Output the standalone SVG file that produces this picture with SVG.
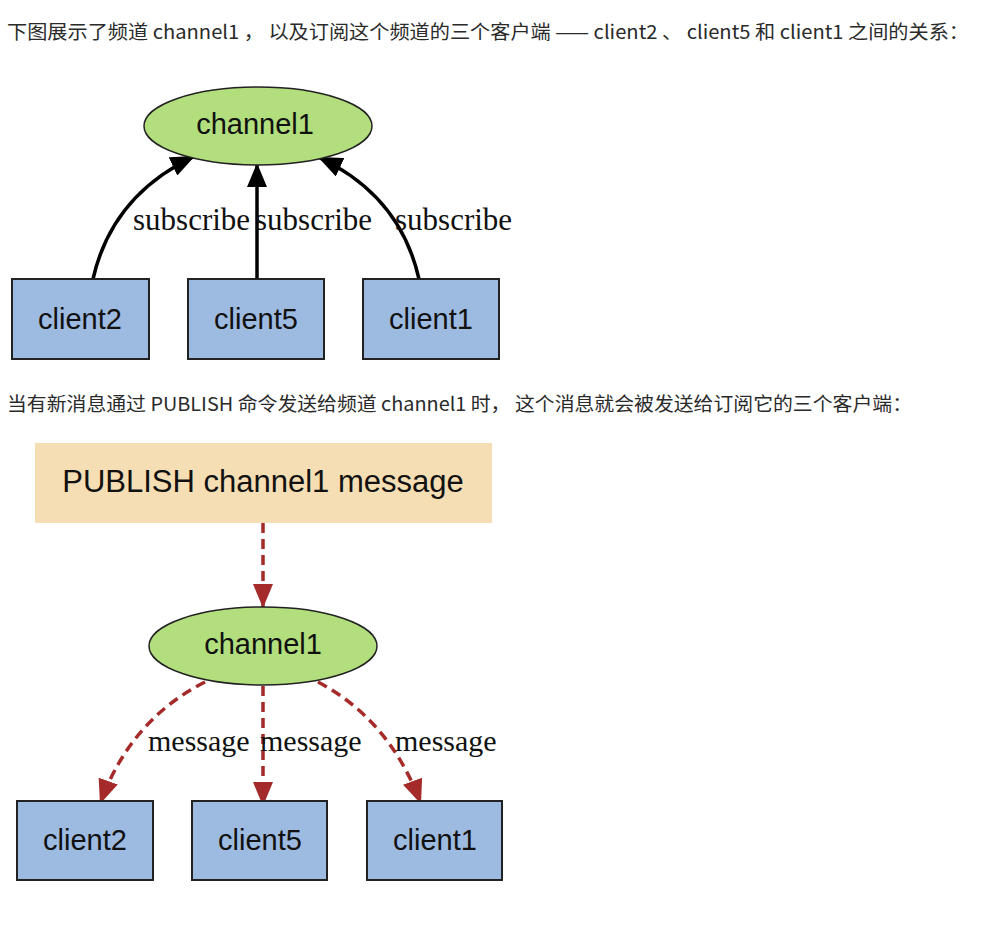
<svg xmlns="http://www.w3.org/2000/svg" width="1006" height="932" viewBox="0 0 1006 932">
<style>
.cap{font-family:"Noto Sans CJK SC","Noto Sans",sans-serif;font-size:19px;fill:#2a2a2a}
.nodeTxt{font-family:"Liberation Sans",Arial,sans-serif;font-size:29px;fill:#111;text-anchor:middle}
.pubTxt{font-size:31px}
.lbl{font-family:"Liberation Serif","Times New Roman",serif;font-size:31px;fill:#111}
.lblm{font-size:30px}
.ell{fill:#b3de7d;stroke:#222;stroke-width:1.5}
.box{fill:#9dbbe0;stroke:#222;stroke-width:2}
.sub{fill:none;stroke:#000;stroke-width:3.5;marker-end:url(#ab)}
.msg{fill:none;stroke:#a52a2a;stroke-width:3.5;stroke-dasharray:10 6;marker-end:url(#ar)}
</style>
<defs>
<marker id="ab" viewBox="0 0 12 10" refX="12" refY="5" markerWidth="7" markerHeight="5.8" markerUnits="strokeWidth" orient="auto"><path d="M0,0L12,5L0,10z" fill="#000"/></marker>
<marker id="ar" viewBox="0 0 12 10" refX="12" refY="5" markerWidth="7" markerHeight="5.8" markerUnits="strokeWidth" orient="auto"><path d="M0,0L12,5L0,10z" fill="#a52a2a"/></marker>
</defs>
<rect width="1006" height="932" fill="#fff"/>
<text class="cap" x="7" y="39" textLength="962" lengthAdjust="spacingAndGlyphs">下图展示了频道 channel1 ， 以及订阅这个频道的三个客户端 —— client2 、 client5 和 client1 之间的关系：</text>
<text class="cap" x="7" y="411" textLength="905" lengthAdjust="spacingAndGlyphs">当有新消息通过 PUBLISH 命令发送给频道 channel1 时， 这个消息就会被发送给订阅它的三个客户端：</text>

<g id="connectors">
<path class="sub" d="M93,279 Q112,195 195,156"/>
<path class="sub" d="M257,279 L257,163"/>
<path class="sub" d="M419,279 Q400,195 318,157"/>
<path class="msg" d="M263,523 L263,608"/>
<path class="msg" d="M205,682 Q130,720 100,804"/>
<path class="msg" d="M263,686 L263,806"/>
<path class="msg" d="M318,682 Q390,720 421,804"/>
</g>
<g id="edge-labels">
<text class="lbl" x="133" y="230">subscribe</text>
<text class="lbl" x="255" y="230">subscribe</text>
<text class="lbl" x="395" y="230">subscribe</text>
<text class="lbl lblm" x="148" y="751">message</text>
<text class="lbl lblm" x="260" y="751">message</text>
<text class="lbl lblm" x="395" y="751">message</text>
</g>

<g id="channel1-top"><ellipse class="ell" cx="258" cy="126" rx="114" ry="39"/><text class="nodeTxt" x="255" y="134">channel1</text></g>
<g id="client2-top"><rect class="box" x="12" y="279" width="137" height="80"/><text class="nodeTxt" x="80" y="329">client2</text></g>
<g id="client5-top"><rect class="box" x="188" y="279" width="136" height="80"/><text class="nodeTxt" x="256" y="329">client5</text></g>
<g id="client1-top"><rect class="box" x="363" y="279" width="136" height="80"/><text class="nodeTxt" x="431" y="329">client1</text></g>

<g id="publish"><rect x="35" y="443" width="457" height="80" fill="#f5deb3"/><text class="nodeTxt pubTxt" x="263" y="492">PUBLISH channel1 message</text></g>
<g id="channel1-bottom"><ellipse class="ell" cx="263" cy="646" rx="114" ry="39"/><text class="nodeTxt" x="263" y="654">channel1</text></g>
<g id="client2-bottom"><rect class="box" x="17" y="801" width="136" height="79"/><text class="nodeTxt" x="85" y="850">client2</text></g>
<g id="client5-bottom"><rect class="box" x="192" y="801" width="135" height="79"/><text class="nodeTxt" x="260" y="850">client5</text></g>
<g id="client1-bottom"><rect class="box" x="367" y="801" width="135" height="79"/><text class="nodeTxt" x="435" y="850">client1</text></g>
</svg>
